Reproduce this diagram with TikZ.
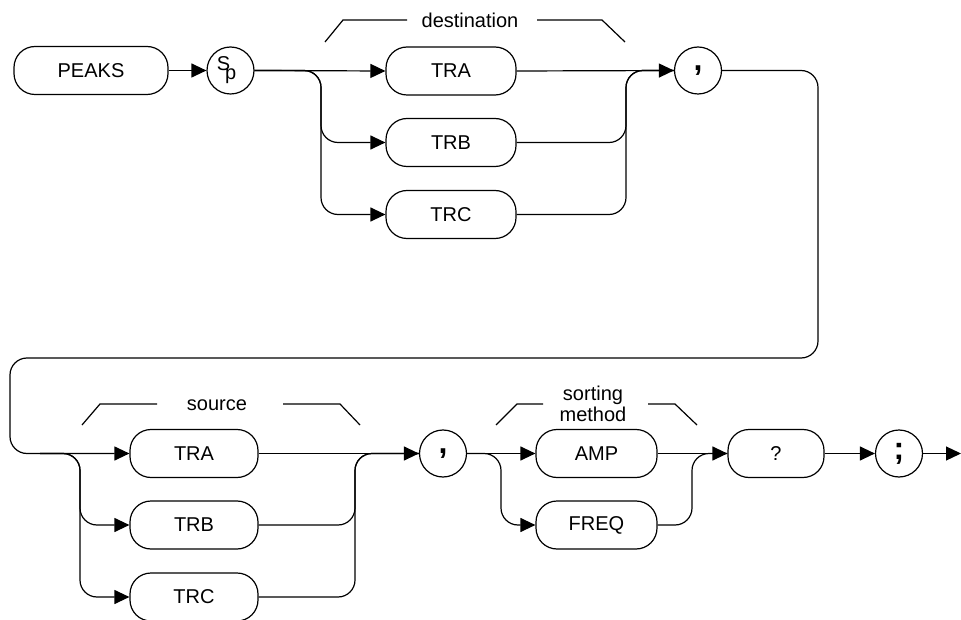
\documentclass[tikz,border=0pt]{standalone}
\usepackage{fontspec}
\setmainfont{Liberation Sans}
\usetikzlibrary{arrows.meta}
\begin{document}
\begin{tikzpicture}[x=1pt,y=-1pt,line width=1.2pt,
  kw/.style={draw,rectangle,rounded corners=21pt,minimum height=48pt,inner sep=0pt,font=\fontsize{20}{22}\selectfont},
  circ/.style={draw,circle,minimum size=47pt,inner sep=0pt,font=\fontsize{20}{22}\selectfont},
  punct/.style={circ,font=\fontsize{32}{34}\selectfont\bfseries},
  arr/.style={-{Triangle[length=15pt,width=14pt]}},
  rc/.style={rounded corners=17pt},
  lbl/.style={font=\fontsize{20}{22}\selectfont,inner sep=0pt,align=center}]
\useasboundingbox (0,0) rectangle (961,620);
% top row
\node[kw,minimum width=154pt] (peaks) at (91,70.5) {PEAKS};
\node[circ] (sp) at (230.5,70.5) {\raisebox{4pt}{S}\kern-5pt\raisebox{-5pt}{p}\kern8pt};
\node[kw,minimum width=130pt] (dTRA) at (451,71) {TRA};
\node[kw,minimum width=130pt] (dTRB) at (451,142.5) {TRB};
\node[kw,minimum width=130pt] (dTRC) at (451,214.5) {TRC};
\node[punct] (comma1) at (698,70.5) {\raisebox{-3pt}{,}};
% bottom row
\node[kw,minimum width=128pt] (sTRA) at (194,453.5) {TRA};
\node[kw,minimum width=128pt] (sTRB) at (194,525) {TRB};
\node[kw,minimum width=128pt] (sTRC) at (194,597) {TRC};
\node[punct] (comma2) at (443,453.5) {\raisebox{-3pt}{,}};
\node[kw,minimum width=121pt] (amp) at (596.5,453.5) {AMP};
\node[kw,minimum width=121pt] (freq) at (596.5,525) {FREQ};
\node[kw,minimum width=96pt] (q) at (776,453.5) {?};
\node[punct] (semi) at (899,453.5) {;};
\coordinate (end) at (961,453.5);
% labels
\node[lbl] (dlab) at (470,20) {destination};
\node[lbl] (slab) at (217,405) {source};
\node[lbl,font=\fontsize{20}{21}\selectfont] (mlab) at (593,404) {sorting\\method};
\draw (325,42) -- (343,20) -- (407,20);
\draw (537,20) -- (602,20) -- (625,42);
\draw (82,425) -- (100,404) -- (157,404);
\draw (283,404) -- (340,404) -- (360,425);
\draw (496,425) -- (517,404) -- (543,404);
\draw (648,404) -- (675,404) -- (697,425);
% connectors top
\draw[arr] (peaks) -- (sp);
\draw[arr] (sp.east) -- (dTRA.west);
\draw[arr,rc] (sp.east) -- (321,70.5) |- (dTRB.west);
\draw[arr,rc] (sp.east) -- (321,70.5) |- (dTRC.west);
\draw[arr] (dTRA.east) -- (comma1.west);
\draw[rc] (dTRB.east) -| (626,70.5) -- (comma1.west);
\draw[rc] (dTRC.east) -| (626,70.5) -- (comma1.west);
% return
\draw[arr,rc] (comma1.east) -- (818,70.5) -- (818,358) -- (10,358) -- (10,453.5) -- (sTRA.west);
% source
\draw[arr,rc] (40,453.5) -- (80,453.5) |- (sTRB.west);
\draw[arr,rc] (40,453.5) -- (80,453.5) |- (sTRC.west);
\draw[arr] (sTRA.east) -- (comma2.west);
\draw[rc] (sTRB.east) -| (355,453.5) -- (comma2.west);
\draw[rc] (sTRC.east) -| (355,453.5) -- (comma2.west);
% sorting
\draw[arr] (comma2.east) -- (amp.west);
\draw[arr,rc] (comma2.east) -- (501,453.5) |- (freq.west);
\draw[arr] (amp.east) -- (q.west);
\draw[rc] (freq.east) -| (692,453.5) -- (q.west);
\draw[arr] (q) -- (semi);
\draw[arr] (semi.east) -- (end);
\end{tikzpicture}
\end{document}
